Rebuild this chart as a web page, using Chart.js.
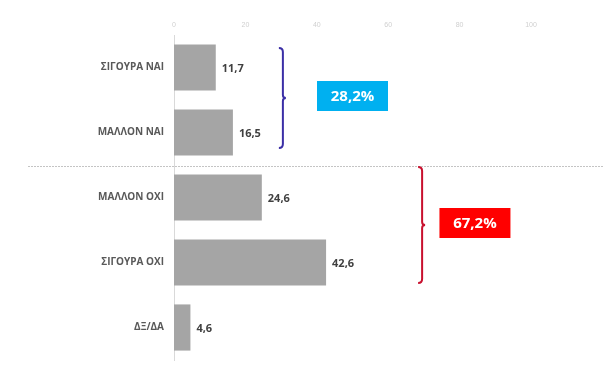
<!DOCTYPE html>
<html>
<head>
<meta charset="utf-8">
<script src="https://cdn.jsdelivr.net/npm/chart.js@4/dist/chart.umd.min.js"></script>
<style>
  html, body { margin: 0; padding: 0; background: #fff; }
  #wrap { width: 604px; height: 375px; }
</style>
</head>
<body>
<div id="wrap"><canvas id="chart"></canvas></div>
<script>
const categories = ['ΣΙΓΟΥΡΑ ΝΑΙ', 'ΜΑΛΛΟΝ ΝΑΙ', 'ΜΑΛΛΟΝ ΟΧΙ', 'ΣΙΓΟΥΡΑ ΟΧΙ', 'ΔΞ/ΔΑ'];
const values = [11.7, 16.5, 24.6, 42.6, 4.6];
const xTicks = [0, 20, 40, 60, 80, 100];
// groups: first..last index, brace x value, box centre x value
const groupLabels = ['28,2%', '67,2%'];
const groupRanges = [[0, 1], [2, 3]];
const groupColors = ['#00b0f0', '#ff0000'];
const braceColors = ['#3b2fa6', '#c8102e'];
const braceAt = [30.5, 69.5];
const boxAt = [50, 84.3];

function fmt(v) { return v.toFixed(1).replace('.', ','); }

const extras = {
  id: 'extras',
  afterDatasetsDraw(chart) {
    const ctx = chart.ctx;
    const x = chart.scales.x, y = chart.scales.y;
    const step = y.getPixelForValue(1) - y.getPixelForValue(0);
    // value labels
    const meta = chart.getDatasetMeta(0);
    ctx.save();
    ctx.font = 'bold 11px "Open Sans", Calibri, sans-serif';
    ctx.fillStyle = '#404040';
    ctx.textBaseline = 'middle';
    meta.data.forEach((bar, i) => {
      ctx.fillText(fmt(values[i]), bar.x + 6, bar.y + 1);
    });
    // dashed separator
    const sepY = Math.round(y.getPixelForValue(1) + step / 2) + 1;
    ctx.strokeStyle = '#c4c4c4';
    ctx.lineWidth = 1;
    ctx.setLineDash([2, 1]);
    ctx.beginPath();
    ctx.moveTo(28, sepY + 0.5);
    ctx.lineTo(chart.width, sepY + 0.5);
    ctx.stroke();
    ctx.setLineDash([]);
    // braces and boxes
    groupRanges.forEach((r, g) => {
      let top, bot;
      if (g === 0) {
        top = y.getPixelForValue(r[0]) - step / 2 + 13;
        bot = y.getPixelForValue(r[1]) + step / 2 - 17;
      } else {
        top = sepY + 1;
        bot = y.getPixelForValue(r[1]) + step / 2 - 12;
      }
      const bx = x.getPixelForValue(braceAt[g]);
      const mid = (top + bot) / 2;
      ctx.strokeStyle = braceColors[g];
      ctx.lineWidth = 2;
      ctx.beginPath();
      ctx.moveTo(bx - 4, top);
      ctx.quadraticCurveTo(bx, top, bx, top + 4);
      ctx.lineTo(bx, mid - 3);
      ctx.quadraticCurveTo(bx, mid, bx + 3, mid);
      ctx.quadraticCurveTo(bx, mid, bx, mid + 3);
      ctx.lineTo(bx, bot - 4);
      ctx.quadraticCurveTo(bx, bot, bx - 4, bot);
      ctx.stroke();
      // box
      const cx = x.getPixelForValue(boxAt[g]);
      const cy = mid - 2;
      const w = 71, h = 30;
      ctx.fillStyle = groupColors[g];
      ctx.fillRect(cx - w / 2, cy - h / 2, w, h);
      ctx.fillStyle = '#ffffff';
      ctx.font = 'bold 15px "Open Sans", Calibri, sans-serif';
      ctx.textAlign = 'center';
      ctx.fillText(groupLabels[g], cx, cy + 1);
      ctx.textAlign = 'left';
    });
    ctx.restore();
  }
};

new Chart(document.getElementById('chart').getContext('2d'), {
  type: 'bar',
  data: {
    labels: categories,
    datasets: [{
      data: values,
      backgroundColor: '#a5a5a5',
      barPercentage: 0.71,
      categoryPercentage: 1.0
    }]
  },
  plugins: [extras],
  options: {
    indexAxis: 'y',
    responsive: true,
    maintainAspectRatio: false,
    animation: false,
    layout: { padding: { top: 0, right: 73, bottom: 15, left: 0 } },
    plugins: { legend: { display: false }, tooltip: { enabled: false } },
    scales: {
      x: {
        position: 'top',
        min: 0, max: 100,
        afterBuildTicks(axis) { axis.ticks = xTicks.map(v => ({ value: v })); },
        grid: { display: false, drawTicks: false },
        border: { display: false },
        ticks: { color: '#d0d0d0', font: { size: 7 }, padding: 6 },
        afterFit(axis) { axis.height = 35; }
      },
      y: {
        grid: { display: false },
        border: { display: true, color: '#d9d9d9' },
        ticks: {
          color: '#595959',
          font: { size: 10, weight: 'bold', family: '"Open Sans", Calibri, sans-serif' },
          padding: 2
        },
        afterFit(axis) { axis.width = 174; }
      }
    }
  }
});
</script>
</body>
</html>
